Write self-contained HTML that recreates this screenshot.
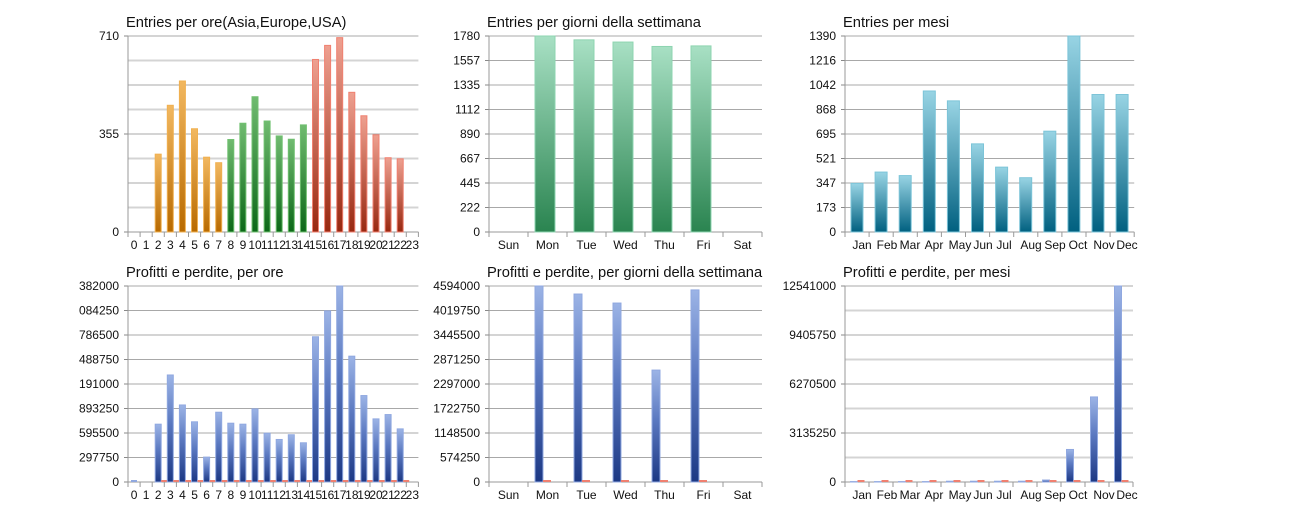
<!DOCTYPE html>
<html><head><meta charset="utf-8"><style>
html,body{margin:0;padding:0;background:#fff;width:1312px;height:526px;overflow:hidden}
svg text{font-family:"Liberation Sans",sans-serif;fill:#111}
</style></head><body>
<svg id="s" width="1312" height="526" xmlns="http://www.w3.org/2000/svg">
<defs>
<linearGradient id="gO" x1="0" y1="0" x2="0" y2="1"><stop offset="0" stop-color="#f2b860"/><stop offset="1" stop-color="#b86a00"/></linearGradient>
<linearGradient id="gG" x1="0" y1="0" x2="0" y2="1"><stop offset="0" stop-color="#70bb70"/><stop offset="1" stop-color="#0c6818"/></linearGradient>
<linearGradient id="gR" x1="0" y1="0" x2="0" y2="1"><stop offset="0" stop-color="#eea090"/><stop offset="1" stop-color="#982810"/></linearGradient>
<linearGradient id="gW" x1="0" y1="0" x2="0" y2="1"><stop offset="0" stop-color="#a8e0c4"/><stop offset="1" stop-color="#2a8450"/></linearGradient>
<linearGradient id="gT" x1="0" y1="0" x2="0" y2="1"><stop offset="0" stop-color="#98d4e4"/><stop offset="1" stop-color="#006080"/></linearGradient>
<linearGradient id="gB" x1="0" y1="0" x2="0" y2="1"><stop offset="0" stop-color="#9cb4e6"/><stop offset="0.45" stop-color="#5a78c0"/><stop offset="1" stop-color="#1c3884"/></linearGradient>
</defs>
</svg>
<script>
var s=document.getElementById('s'),o='';
function chart(c){
 var x0=c.x,x1=c.x+c.n*c.cw,y0=c.y,y1=c.y+196;
 o+='<text x="'+(x0-2)+'" y="'+(y0-9)+'" font-size="14.7">'+c.title+'</text>';
 for(var i=0;i<=8;i++){var y=y1-i*196/8;var lab=c.lab[i];
  if(lab!==undefined&&lab!==null){o+='<line x1="'+x0+'" x2="'+x1+'" y1="'+y+'" y2="'+y+'" stroke="#a8a8a8" stroke-width="1"/>';
   o+='<text x="'+(x0-9)+'" y="'+(y+4)+'" font-size="12" text-anchor="end">'+lab+'</text>';
   o+='<line x1="'+(x0-4)+'" x2="'+x0+'" y1="'+y+'" y2="'+y+'" stroke="#888"/>';}
  else o+='<line x1="'+x0+'" x2="'+x1+'" y1="'+y+'" y2="'+y+'" stroke="#d4d4d4" stroke-width="2"/>';}
 o+='<line x1="'+x0+'" x2="'+x0+'" y1="'+y0+'" y2="'+y1+'" stroke="#999"/>';
 o+='<line x1="'+x0+'" x2="'+x1+'" y1="'+y1+'" y2="'+y1+'" stroke="#999"/>';
 for(var i=0;i<=c.n;i++){var x=x0+i*c.cw;o+='<line x1="'+x+'" x2="'+x+'" y1="'+y1+'" y2="'+(y1+5)+'" stroke="#999"/>';}
 for(var i=0;i<c.n;i++){var lx=(c.lx?c.lx[i]:x0+(i+.5)*c.cw);
  o+='<text x="'+lx+'" y="'+(y1+17)+'" font-size="12" text-anchor="middle">'+c.cats[i]+'</text>';
  var v=c.v[i];if(v==null)continue;var h=v*196,bx=x0+i*c.cw+c.bo;
  if(h>0)o+='<rect x="'+bx+'" y="'+(y1-h)+'" width="'+c.bw+'" height="'+h+'" fill="url(#'+(c.fill(i))+')" stroke="'+c.st(i)+'" stroke-width="1"/>';
  else if(c.red)o+='<rect x="'+bx+'" y="'+(y1-2)+'" width="'+c.bw+'" height="2" fill="#90a8e0"/>';
  if(c.red&&v>0)o+='<rect x="'+(bx+c.bw)+'" y="'+(y1-2)+'" width="'+c.bw+'" height="2" fill="#f08070"/>';
 }
}
var hrs=[];for(var i=0;i<24;i++)hrs.push(i);
var e=[null,null,282,459,547,374,271,251,335,394,490,402,348,336,388,625,676,704,506,421,352,269,265,null];
chart({x:128,y:36,n:24,cw:12.1,bw:6,bo:3,title:'Entries per ore(Asia,Europe,USA)',cats:hrs,
 lab:{0:'0',4:'355',8:'710'},v:e.map(function(a){return a==null?null:a/710}),
 fill:function(i){return i<8?'gO':i<15?'gG':'gR'},st:function(i){return i<8?'#f0b050':i<15?'#70c070':'#f08070'}});
var wd=['Sun','Mon','Tue','Wed','Thu','Fri','Sat'];
chart({x:489,y:36,n:7,cw:39,bw:20,bo:46-39,title:'Entries per giorni della settimana',cats:wd,
 lab:['0','222','445','667','890','1112','1335','1557','1780'],v:[null,1780/1780,1745/1780,1725/1780,1685/1780,1690/1780,null],
 fill:function(){return 'gW'},st:function(){return '#8ed4b0'}});
var mo=['Jan','Feb','Mar','Apr','May','Jun','Jul','Aug','Sep','Oct','Nov','Dec'];
var mlx=[862,887,910,934,960,983,1004,1031,1055,1078,1104,1127];
var mv=[345,425,400,1000,930,625,460,385,715,1390,975,975];
chart({x:845,y:36,n:12,cw:24.1,bw:12,bo:6,title:'Entries per mesi',cats:mo,lx:mlx,
 lab:['0','173','347','521','695','868','1042','1216','1390'],v:mv.map(function(a){return a/1390}),
 fill:function(){return 'gT'},st:function(){return '#7cc4d8'}});
var p=[0,null,.295,.546,.393,.307,.127,.356,.3,.295,.373,.249,.217,.241,.2,.741,.873,1,.642,.441,.322,.344,.271,null];
chart({x:128,y:286,n:24,cw:12.1,bw:6,bo:3,red:true,title:'Profitti e perdite, per ore',cats:hrs,
 lab:['0','297750','595500','893250','191000','488750','786500','084250','382000'],v:p,
 fill:function(){return 'gB'},st:function(){return '#90a8e0'}});
chart({x:489,y:286,n:7,cw:39,bw:8,bo:46-39,red:true,title:'Profitti e perdite, per giorni della settimana',cats:wd,
 lab:['0','574250','1148500','1722750','2297000','2871250','3445500','4019750','4594000'],v:[null,1,.959,.913,.571,.98,null],
 fill:function(){return 'gB'},st:function(){return '#90a8e0'}});
chart({x:845,y:286,n:12,cw:24,bw:7,bo:5.5,red:true,title:'Profitti e perdite, per mesi',cats:mo,lx:mlx,
 lab:{0:'0',2:'3135250',4:'6270500',6:'9405750',8:'12541000'},v:[.002,.002,.002,.002,.004,.004,.004,.004,.01,.166,.434,1],
 fill:function(){return 'gB'},st:function(){return '#90a8e0'}});
s.innerHTML+=o;
</script>
</body></html>
